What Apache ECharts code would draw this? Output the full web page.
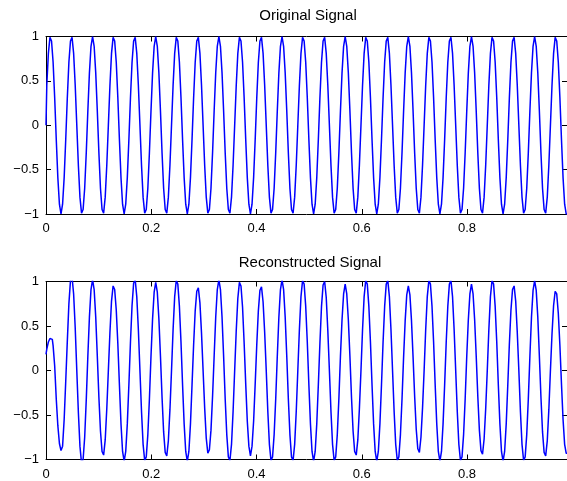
<!DOCTYPE html>
<html><head><meta charset="utf-8">
<script src="https://cdn.jsdelivr.net/npm/echarts@6/dist/echarts.min.js"></script>
<style>html,body{margin:0;padding:0;background:#fff}#c{width:567px;height:481px}</style>
</head><body><div id="c"></div>
<script>
const titles = ['Original Signal', 'Reconstructed Signal'];
const sampleStep = 0.003;   // seconds between samples
const xMax = 0.99;
const xTicks = [0, 0.2, 0.4, 0.6, 0.8];
const xTickLabels = ['0', '0.2', '0.4', '0.6', '0.8'];
const yTicks = [-1, -0.5, 0, 0.5, 1];
const yTickLabels = ['\u22121', '\u22120.5', '0', '0.5', '1'];

const originalSignal = [
0,.45,.81,.99,.95,.71,.31,-.16,-.59,-.89,-1,-.89,-.59,-.16,.31,.71,.95,.99,.81,.45,0,-.45,-.81,-.99,-.95,-.71,-.31,.16,.59,.89,1,.89,.59,.16,-.31,-.71,-.95,-.99,-.81,-.45,
0,.45,.81,.99,.95,.71,.31,-.16,-.59,-.89,-1,-.89,-.59,-.16,.31,.71,.95,.99,.81,.45,0,-.45,-.81,-.99,-.95,-.71,-.31,.16,.59,.89,1,.89,.59,.16,-.31,-.71,-.95,-.99,-.81,-.45,
0,.45,.81,.99,.95,.71,.31,-.16,-.59,-.89,-1,-.89,-.59,-.16,.31,.71,.95,.99,.81,.45,0,-.45,-.81,-.99,-.95,-.71,-.31,.16,.59,.89,1,.89,.59,.16,-.31,-.71,-.95,-.99,-.81,-.45,
0,.45,.81,.99,.95,.71,.31,-.16,-.59,-.89,-1,-.89,-.59,-.16,.31,.71,.95,.99,.81,.45,0,-.45,-.81,-.99,-.95,-.71,-.31,.16,.59,.89,1,.89,.59,.16,-.31,-.71,-.95,-.99,-.81,-.45,
0,.45,.81,.99,.95,.71,.31,-.16,-.59,-.89,-1,-.89,-.59,-.16,.31,.71,.95,.99,.81,.45,0,-.45,-.81,-.99,-.95,-.71,-.31,.16,.59,.89,1,.89,.59,.16,-.31,-.71,-.95,-.99,-.81,-.45,
0,.45,.81,.99,.95,.71,.31,-.16,-.59,-.89,-1,-.89,-.59,-.16,.31,.71,.95,.99,.81,.45,0,-.45,-.81,-.99,-.95,-.71,-.31,.16,.59,.89,1,.89,.59,.16,-.31,-.71,-.95,-.99,-.81,-.45,
0,.45,.81,.99,.95,.71,.31,-.16,-.59,-.89,-1,-.89,-.59,-.16,.31,.71,.95,.99,.81,.45,0,-.45,-.81,-.99,-.95,-.71,-.31,.16,.59,.89,1,.89,.59,.16,-.31,-.71,-.95,-.99,-.81,-.45,
0,.45,.81,.99,.95,.71,.31,-.16,-.59,-.89,-1,-.89,-.59,-.16,.31,.71,.95,.99,.81,.45,0,-.45,-.81,-.99,-.95,-.71,-.31,.16,.59,.89,1,.89,.59,.16,-.31,-.71,-.95,-.99,-.81,-.45,
0,.45,.81,.99,.95,.71,.31,-.16,-.59,-.89,-1
];

const reconstructedSignal = [
.18,.24,.32,.36,.35,.28,.05,-.32,-.62,-.82,-.9,-.85,-.55,-.12,
.33,.75,1.01,1.05,.86,.48,0,-.47,-.85,-1.04,-1,-.75,-.33,
.16,.6,.91,1.02,.91,.6,.16,-.3,-.68,-.91,-.95,-.78,-.43,
0,.43,.78,.95,.91,.68,.3,-.16,-.6,-.91,-1.02,-.91,-.6,-.16,
.32,.73,.98,1.02,.83,.46,0,-.46,-.83,-1.01,-.97,-.72,-.32,
.16,.58,.88,.99,.88,.58,.16,-.3,-.69,-.92,-.96,-.79,-.44,
0,.46,.83,1.01,.97,.72,.32,-.16,-.6,-.91,-1.02,-.91,-.6,-.16,
.29,.67,.89,.93,.76,.42,0,-.42,-.76,-.93,-.89,-.67,-.29,
.16,.6,.91,1.02,.91,.6,.16,-.32,-.72,-.97,-1.01,-.83,-.46,
0,.45,.81,.99,.95,.71,.31,-.15,-.57,-.85,-.96,-.85,-.57,-.15,
.29,.67,.9,.94,.77,.43,0,-.46,-.83,-1.01,-.97,-.72,-.32,
.16,.6,.91,1.02,.91,.6,.16,-.32,-.72,-.97,-1.01,-.83,-.46,
0,.46,.83,1.01,.97,.72,.32,-.16,-.6,-.91,-1.02,-.91,-.6,-.16,
.31,.72,.96,1,.82,.45,0,-.46,-.83,-1.01,-.97,-.72,-.32,
.16,.57,.86,.97,.86,.57,.16,-.3,-.68,-.91,-.95,-.78,-.43,
0,.46,.83,1.01,.97,.72,.32,-.16,-.6,-.91,-1.02,-.91,-.6,-.16,
.32,.72,.97,1.01,.83,.46,0,-.46,-.83,-1.01,-.97,-.72,-.32,
.15,.56,.85,.95,.85,.56,.15,-.29,-.66,-.88,-.92,-.75,-.42,
0,.46,.83,1.01,.97,.72,.32,-.16,-.6,-.91,-1.02,-.91,-.6,-.16,
.32,.72,.97,1.01,.83,.46,0,-.46,-.83,-1.01,-.97,-.72,-.32,
.16,.57,.86,.97,.86,.57,.16,-.29,-.67,-.9,-.94,-.77,-.43,
0,.46,.83,1.01,.97,.72,.32,-.16,-.6,-.91,-1.02,-.91,-.6,-.16,
.3,.68,.91,.95,.78,.43,0,-.46,-.83,-1.01,-.97,-.72,-.32,
.16,.6,.9,1.01,.9,.6,.16,-.3,-.69,-.92,-.96,-.79,-.44,
0,.41,.73,.89,.86,.64,.28,-.15,-.55,-.83,-.93
];

const FONT = '"Liberation Sans", Arial, Helvetica, sans-serif';
function labelFor(v, ticks, labels) {
  for (let i = 0; i < ticks.length; i++) if (Math.abs(v - ticks[i]) < 1e-6) return labels[i];
  return '';
}
const grids = [
  {left: 46, top: 36.5, width: 523, height: 177.5},
  {left: 46, top: 281.5, width: 523, height: 178}
];
const axisLineStyle = {color: '#000', width: 1};
function xAxis(gi, pos) {
  return {
    type: 'value', gridIndex: gi, position: pos, min: 0, max: xMax, interval: 0.2,
    axisLine: {show: true, onZero: false, lineStyle: axisLineStyle},
    axisTick: {show: true, inside: true, length: 5, lineStyle: axisLineStyle},
    axisLabel: {show: pos === 'bottom', margin: 8, color: '#000', fontSize: 13, fontFamily: FONT,
      showMaxLabel: false, formatter: v => labelFor(v, xTicks, xTickLabels)},
    splitLine: {show: false}
  };
}
function yAxis(gi, pos) {
  return {
    type: 'value', gridIndex: gi, position: pos, min: -1, max: 1, interval: 0.5,
    axisLine: {show: true, onZero: false, lineStyle: axisLineStyle},
    axisTick: {show: true, inside: true, length: 5, lineStyle: axisLineStyle},
    axisLabel: {show: pos === 'left', margin: 7, color: '#000', fontSize: 13, fontFamily: FONT,
      formatter: v => labelFor(v, yTicks, yTickLabels)},
    splitLine: {show: false}
  };
}
function toPoints(arr) { return arr.map((v, i) => [i * sampleStep, v]); }
const lineStyle = {color: '#0000ff', width: 1.5};
const chart = echarts.init(document.getElementById('c'), null, {renderer: 'canvas'});
chart.setOption({
  animation: false,
  backgroundColor: '#fff',
  title: [
    {text: titles[0], left: 308, top: 8, padding: 0, textAlign: 'center',
     textStyle: {fontSize: 15, fontWeight: 'normal', color: '#000', fontFamily: FONT}},
    {text: titles[1], left: 310, top: 255, padding: 0, textAlign: 'center',
     textStyle: {fontSize: 15, fontWeight: 'normal', color: '#000', fontFamily: FONT}}
  ],
  grid: grids,
  xAxis: [xAxis(0, 'bottom'), xAxis(0, 'top'), xAxis(1, 'bottom'), xAxis(1, 'top')],
  yAxis: [yAxis(0, 'left'), yAxis(0, 'right'), yAxis(1, 'left'), yAxis(1, 'right')],
  series: [
    {type: 'line', xAxisIndex: 0, yAxisIndex: 0, data: toPoints(originalSignal), showSymbol: false,
     step: 'middle', clip: true, lineStyle: lineStyle},
    {type: 'line', xAxisIndex: 2, yAxisIndex: 2, data: toPoints(reconstructedSignal), showSymbol: false,
     step: 'middle', clip: true, lineStyle: lineStyle}
  ]
});
</script></body></html>
